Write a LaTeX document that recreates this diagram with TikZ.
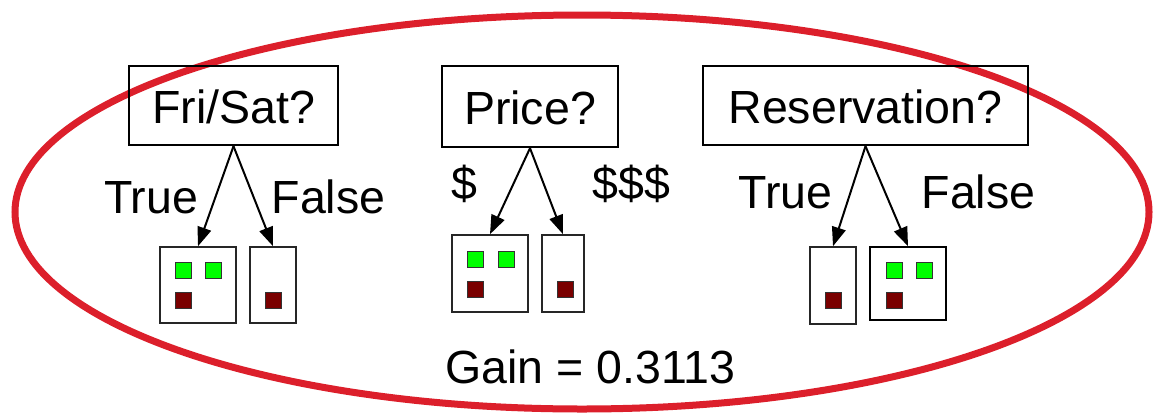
\documentclass[tikz,border=0pt]{standalone}
\usepackage{fontspec}
\setmainfont{Liberation Sans}
\usetikzlibrary{arrows.meta}
\definecolor{ellred}{HTML}{DC1F2B}
\definecolor{sqgreen}{HTML}{00FF00}
\definecolor{sqred}{HTML}{7A0000}
\begin{document}
\begin{tikzpicture}[x=1pt,y=-1pt,
  bigtext/.style={font=\fontsize{46.5}{50}\selectfont},
  qbox/.style={draw=black,line width=2.4pt,inner sep=0pt,bigtext},
  leafbox/.style={draw=black!85,line width=1.6pt,fill=white,inner sep=0pt},
  gsq/.style={draw=black!80,line width=1pt,fill=sqgreen,minimum size=16pt,inner sep=0pt},
  rsq/.style={draw=black!80,line width=1pt,fill=sqred,minimum size=16pt,inner sep=0pt},
  lbl/.style={bigtext,anchor=base,inner sep=0pt},
  arr/.style={line width=2pt,-{Triangle[length=19pt,width=14pt]}}]
\useasboundingbox (0,0) rectangle (1153,418);
\draw[ellred,line width=7pt] (582,212) ellipse [x radius=567, y radius=197];
% question boxes
\node[qbox,minimum width=209pt,minimum height=79pt] (fs) at (233.5,105.5) {};
\node[lbl] (fst) at (233.5,123) {Fri/Sat?};
\node[qbox,minimum width=176pt,minimum height=81pt] (pr) at (530,106.5) {};
\node[lbl] (prt) at (530,124) {Price?};
\node[qbox,minimum width=325pt,minimum height=79pt] (rs) at (865.5,105.5) {};
\node[lbl] (rst) at (865.5,123) {Reservation?};
% leaf boxes Fri/Sat
\node[leafbox,minimum width=76pt,minimum height=76pt] (fl) at (198,285) {};
\node[leafbox,minimum width=46pt,minimum height=76pt] (fr) at (273,285) {};
\node[gsq] (fl1) at (183,270) {};
\node[gsq] (fl2) at (213,270) {};
\node[rsq] (fl3) at (183,300) {};
\node[rsq] (fr1) at (273,300) {};
% leaf boxes Price
\node[leafbox,minimum width=76pt,minimum height=77pt] (pl) at (490,273.5) {};
\node[leafbox,minimum width=42pt,minimum height=77pt] (pp) at (563,273.5) {};
\node[gsq] (pl1) at (475,259) {};
\node[gsq] (pl2) at (506,259) {};
\node[rsq] (pl3) at (475,289) {};
\node[rsq] (pp1) at (565,289) {};
% leaf boxes Reservation
\node[leafbox,minimum width=46pt,minimum height=77pt] (rl) at (833,285.5) {};
\node[leafbox,minimum width=76pt,minimum height=73pt,draw=black] (rr) at (908,283.5) {};
\node[rsq] (rl1) at (833,300) {};
\node[gsq] (rr1) at (894,270) {};
\node[gsq] (rr2) at (924,270) {};
\node[rsq] (rr3) at (894,300) {};
% arrows
\draw[arr] (fs.south) -- (fl.north);
\draw[arr] (fs.south) -- (fr.north);
\draw[arr] (pr.south) -- (pl.north);
\draw[arr] (pr.south) -- (pp.north);
\draw[arr] (rs.south) -- (rl.north);
\draw[arr] (rs.south) -- (rr.north);
% labels
\node[lbl] (t1) at (151,213) {True};
\node[lbl] (f1) at (328.5,213) {False};
\node[lbl] (d1) at (464.5,199) {\$};
\node[lbl] (d3) at (631.5,199) {\$\$\$};
\node[lbl] (t2) at (785.5,208) {True};
\node[lbl] (f2) at (978.5,208) {False};
\node[lbl] (gain) at (590.5,383) {Gain = 0.3113};
\end{tikzpicture}
\end{document}
